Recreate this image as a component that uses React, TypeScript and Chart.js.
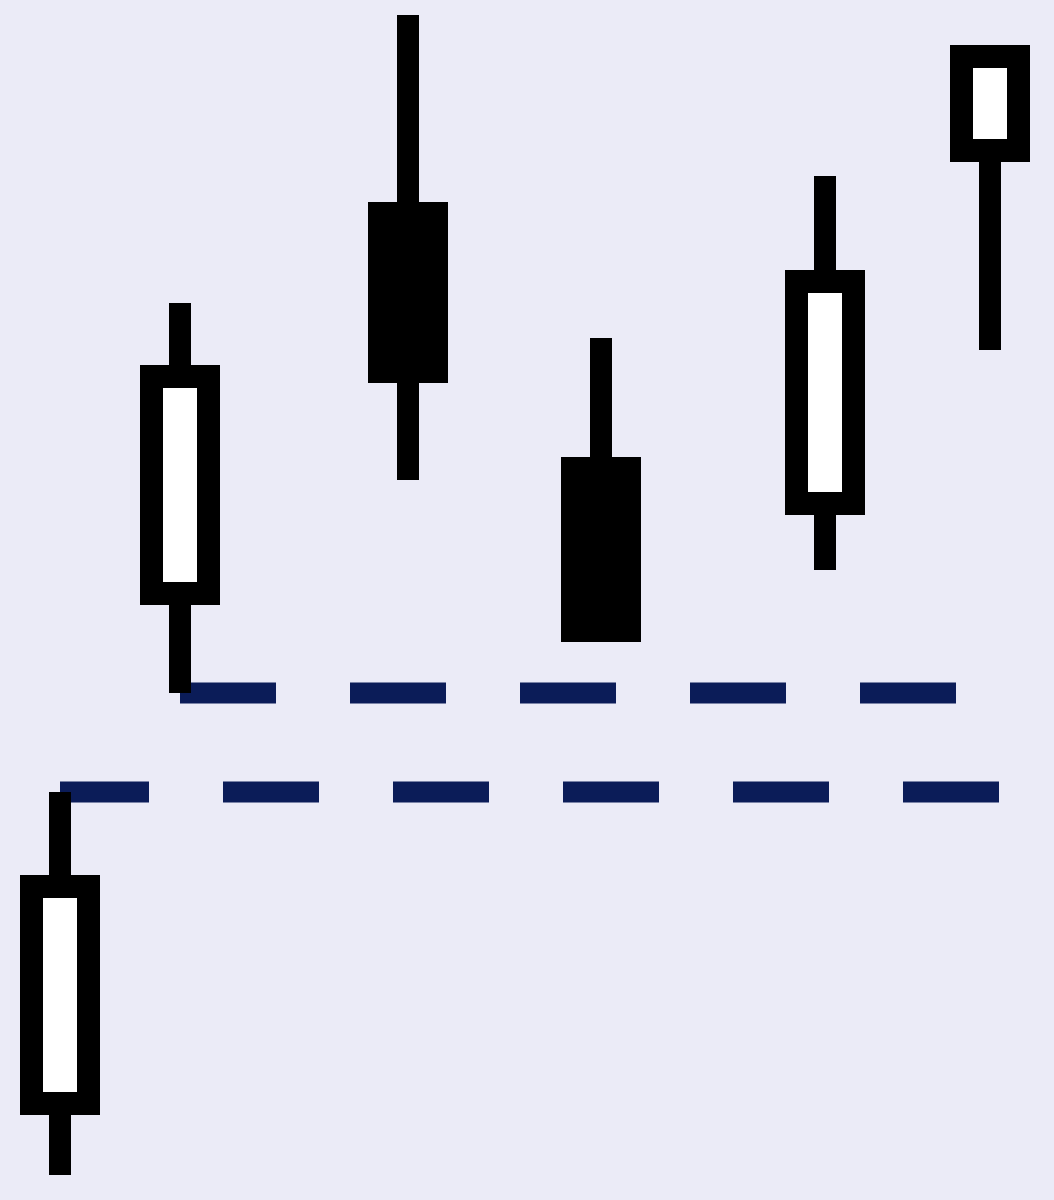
import React, { useEffect, useRef } from 'react';
import { Chart, registerables } from 'chart.js';

Chart.register(...registerables);

// Candle time positions (irregularly spaced sessions)
const sessions = [6, 18, 40.8, 60.1, 82.5, 99];
const opens = [8.5, 59.5, 99.8, 74.3, 68.5, 103.8];
const closes = [32.5, 83.5, 81.7, 55.8, 93, 115.5];
const highs = [40.8, 89.7, 118.5, 86.2, 102.4, 115.5];
const lows = [2.5, 50.7, 72, 55.8, 63, 85];

// Dashed support levels
const levelValues = [50.7, 40.8];
const levelStarts = [18, 6];
const levelEnds = [99, 105.4];
const levelDashOffsets = [0, 7];

const X_MIN = 0;
const X_MAX = 105.4;
const Y_MIN = 0;
const Y_MAX = 120;

const BG = '#EBEBF7';
const NAVY = '#0b1c58';

export default function App() {
  const ref = useRef<HTMLCanvasElement | null>(null);

  useEffect(() => {
    if (!ref.current) return;
    const bodies = sessions.map((x, i) => ({ x, y: [opens[i], closes[i]] }));
    const wicks = sessions.map((x, i) => ({ x, y: [lows[i], highs[i]] }));
    const fills = sessions.map((_, i) => (closes[i] >= opens[i] ? '#ffffff' : '#000000'));

    const lineSets = levelValues.map((v, i) => ({
      type: 'line' as const,
      data: [
        { x: levelStarts[i], y: v },
        { x: levelEnds[i], y: v },
      ],
      borderColor: NAVY,
      backgroundColor: NAVY,
      borderWidth: 21,
      borderDash: [96, 74],
      borderDashOffset: levelDashOffsets[i],
      borderCapStyle: 'butt' as const,
      pointRadius: 0,
      pointHoverRadius: 0,
      fill: false,
      tension: 0,
    }));

    const chart = new Chart(ref.current, {
      type: 'bar',
      data: {
        datasets: [
          {
            type: 'bar',
            data: bodies as any,
            backgroundColor: fills,
            borderColor: '#000000',
            borderWidth: 23,
            barThickness: 80,
            grouped: false,
            borderSkipped: false,
            borderRadius: 0,
            inflateAmount: 0,
          } as any,
          {
            type: 'bar',
            data: wicks as any,
            backgroundColor: '#000000',
            borderWidth: 0,
            barThickness: 22,
            grouped: false,
            borderSkipped: false,
            borderRadius: 0,
            inflateAmount: 0,
          } as any,
          ...(lineSets as any[]),
        ],
      },
      options: {
        animation: false,
        responsive: false,
        devicePixelRatio: 1,
        events: [],
        layout: { padding: 0 },
        plugins: {
          legend: { display: false },
          tooltip: { enabled: false },
          title: { display: false },
        },
        scales: {
          x: {
            type: 'linear',
            min: X_MIN,
            max: X_MAX,
            display: false,
            offset: false,
            grid: { display: false, offset: false },
          },
          y: {
            type: 'linear',
            min: Y_MIN,
            max: Y_MAX,
            display: false,
            grid: { display: false },
          },
        },
      } as any,
    });
    return () => chart.destroy();
  }, []);

  return (
    <div
      style={{
        position: 'absolute',
        left: 0,
        top: 0,
        width: 1054,
        height: 1200,
        background: BG,
        overflow: 'hidden',
      }}
    >
      <canvas ref={ref} width={1054} height={1200} style={{ display: 'block' }} />
    </div>
  );
}
